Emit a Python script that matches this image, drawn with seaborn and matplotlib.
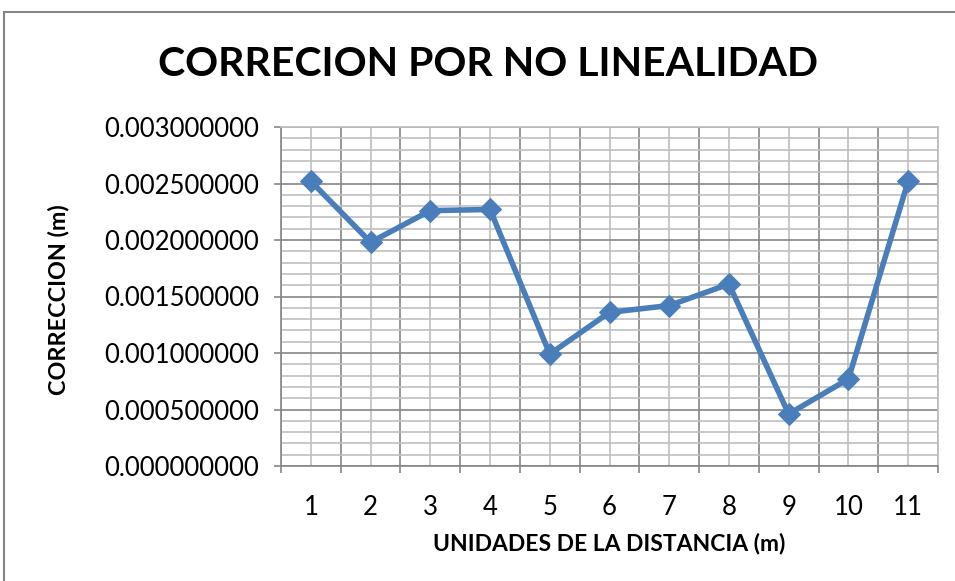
import matplotlib
matplotlib.use("Agg")
import matplotlib.pyplot as plt
import seaborn as sns
import pandas as pd
import numpy as np
from matplotlib.ticker import MultipleLocator, FixedLocator, NullFormatter
from matplotlib.patches import Rectangle

categories = [1, 2, 3, 4, 5, 6, 7, 8, 9, 10, 11]
corrections = [0.00252, 0.00198, 0.00226, 0.00227, 0.00099, 0.00136, 0.00142,
               0.00161, 0.00046, 0.00077, 0.00252]
title = "CORRECION POR NO LINEALIDAD"
xlabel = "UNIDADES DE LA DISTANCIA (m)"
ylabel = "CORRECCION (m)"

sns.set_theme(style="white")
plt.rcParams['font.family'] = ['Lato', 'DejaVu Sans']

df = pd.DataFrame({"x": categories, "y": corrections})

fig = plt.figure(figsize=(9.55, 5.81), dpi=100)
ax = fig.add_axes([281/955, 1-466/581, (938-281)/955, (466-127)/581])

line_color = "#4A7EBB"
sns.lineplot(data=df, x="x", y="y", ax=ax, color=line_color, linewidth=4,
             marker="D", markersize=11, markeredgecolor=line_color,
             markerfacecolor=line_color)

ax.set_xlim(0.5, 11.5)
ax.set_ylim(0, 0.003)

ax.yaxis.set_major_locator(MultipleLocator(0.0005))
ax.yaxis.set_minor_locator(MultipleLocator(0.0001))
ax.yaxis.set_major_formatter(matplotlib.ticker.FuncFormatter(lambda v, p: f"{v:.9f}"))

ax.xaxis.set_major_locator(FixedLocator(np.arange(0.5, 12, 1)))
ax.xaxis.set_major_formatter(NullFormatter())
ax.xaxis.set_minor_locator(FixedLocator(categories))
ax.xaxis.set_minor_formatter(matplotlib.ticker.FixedFormatter([str(c) for c in categories]))

ax.grid(which="major", color="#868686", linewidth=1.2)
ax.grid(which="minor", color="#BFBFBF", linewidth=1.2)
ax.set_axisbelow(True)

for s in ["top", "right"]:
    ax.spines[s].set_color("#BFBFBF")
for s in ["left", "bottom"]:
    ax.spines[s].set_color("#868686")
    ax.spines[s].set_linewidth(1.2)

ax.tick_params(axis="y", which="major", length=5, color="#868686", width=1.2,
               labelsize=18.5, pad=11, left=True, labelcolor="black")
ax.tick_params(axis="y", which="minor", length=0)
ax.tick_params(axis="x", which="major", length=5, color="#868686", width=1.2,
               bottom=True)
ax.tick_params(axis="x", which="minor", length=0, labelsize=18.5, pad=21,
               labelcolor="black")

ax.set_xlabel(xlabel, fontsize=16.5, fontweight="bold", color="black")
ax.set_ylabel(ylabel, fontsize=16.8, fontweight="bold", color="black")
ax.xaxis.set_label_coords(0.5, (466-543)/339)
ax.xaxis.label.set_va("center")
ax.yaxis.set_label_coords((58-281)/657, (466-300)/339)
ax.yaxis.label.set_va("center")

fig.text(488/955, 1-65/581, title, ha="center", va="center",
         fontsize=29.5, fontweight="bold", color="black")

fig.patches.append(Rectangle((4/955, -0.1), 1.2, 1-12/581+0.1,
                             transform=fig.transFigure, fill=False,
                             edgecolor="#868686", linewidth=1.5))

fig.savefig("out.png", dpi=100)
